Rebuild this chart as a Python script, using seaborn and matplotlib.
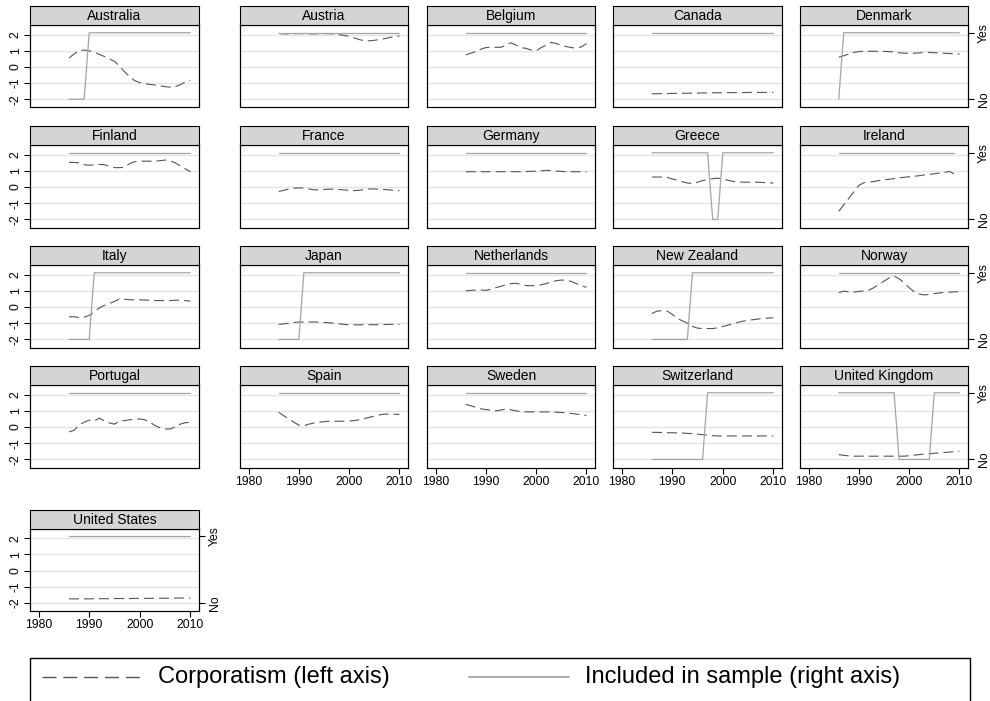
import pandas as pd
import matplotlib
matplotlib.use("Agg")
import matplotlib.pyplot as plt
from matplotlib.lines import Line2D
from matplotlib.patches import Rectangle
import seaborn as sns

years = list(range(1986, 2011))

countries = ["Australia", "Austria", "Belgium", "Canada", "Denmark",
             "Finland", "France", "Germany", "Greece", "Ireland",
             "Italy", "Japan", "Netherlands", "New Zealand", "Norway",
             "Portugal", "Spain", "Sweden", "Switzerland", "United Kingdom",
             "United States"]

# corporatism index, 1986-2010
australia = [0.55, 0.8, 1.02, 1.05, 1.0, 0.9, 0.78, 0.65, 0.5, 0.35, 0.05, -0.3, -0.6,
             -0.85, -0.97, -1.03, -1.08, -1.12, -1.17, -1.22, -1.25, -1.22, -1.1, -0.93, -0.85]
austria = [2.08, 2.05, 2.05, 2.06, 2.07, 2.06, 2.05, 2.05, 2.06, 2.07, 2.06, 2.05, 2.0,
           1.95, 1.9, 1.8, 1.7, 1.62, 1.62, 1.65, 1.7, 1.75, 1.82, 1.88, 1.92]
belgium = [0.75, 0.85, 0.95, 1.1, 1.2, 1.22, 1.22, 1.22, 1.35, 1.5, 1.35, 1.2, 1.15,
           1.05, 1.0, 1.2, 1.35, 1.52, 1.45, 1.35, 1.26, 1.2, 1.17, 1.25, 1.45]
canada = [-1.66, -1.66, -1.65, -1.65, -1.64, -1.64, -1.63, -1.63, -1.62, -1.62, -1.61, -1.61, -1.6,
          -1.6, -1.6, -1.59, -1.59, -1.59, -1.59, -1.58, -1.58, -1.58, -1.58, -1.58, -1.58]
denmark = [0.6, 0.7, 0.8, 0.9, 0.95, 0.97, 0.97, 0.97, 0.97, 0.97, 0.95, 0.93, 0.88,
           0.85, 0.85, 0.85, 0.87, 0.9, 0.9, 0.88, 0.86, 0.85, 0.83, 0.82, 0.8]
finland = [1.53, 1.52, 1.5, 1.38, 1.35, 1.37, 1.4, 1.38, 1.28, 1.2, 1.2, 1.22, 1.45,
           1.57, 1.6, 1.6, 1.6, 1.6, 1.63, 1.67, 1.62, 1.5, 1.3, 1.12, 0.95]
france = [-0.27, -0.2, -0.12, -0.07, -0.05, -0.07, -0.12, -0.17, -0.17, -0.15, -0.13, -0.13, -0.15,
          -0.18, -0.2, -0.22, -0.2, -0.15, -0.12, -0.12, -0.13, -0.15, -0.18, -0.2, -0.22]
germany = [0.95, 0.95, 0.95, 0.95, 0.95, 0.95, 0.95, 0.95, 0.95, 0.95, 0.95, 0.95, 0.96,
           0.97, 0.99, 1.01, 1.03, 1.02, 0.99, 0.97, 0.95, 0.95, 0.95, 0.95, 0.95]
greece = [0.62, 0.62, 0.62, 0.6, 0.5, 0.42, 0.33, 0.25, 0.22, 0.3, 0.4, 0.47, 0.52,
          0.55, 0.5, 0.42, 0.35, 0.32, 0.3, 0.3, 0.3, 0.3, 0.28, 0.26, 0.25]
ireland = [-1.5, -1.1, -0.7, -0.3, 0.1, 0.27, 0.3, 0.35, 0.4, 0.45, 0.48, 0.52, 0.57,
           0.6, 0.64, 0.67, 0.7, 0.75, 0.78, 0.82, 0.86, 0.9, 0.97, 0.8, None]
italy = [-0.6, -0.6, -0.65, -0.62, -0.52, -0.3, -0.05, 0.1, 0.22, 0.35, 0.5, 0.48, 0.45,
         0.45, 0.45, 0.43, 0.42, 0.4, 0.4, 0.4, 0.4, 0.42, 0.43, 0.4, 0.36]
japan = [-1.07, -1.04, -1.0, -0.95, -0.93, -0.92, -0.92, -0.92, -0.93, -0.95, -0.97, -1.0, -1.04,
         -1.07, -1.1, -1.1, -1.1, -1.09, -1.09, -1.09, -1.08, -1.08, -1.07, -1.07, -1.07]
netherlands = [1.0, 1.03, 1.05, 1.06, 1.03, 1.1, 1.2, 1.28, 1.38, 1.45, 1.47, 1.4, 1.33,
               1.32, 1.33, 1.38, 1.45, 1.55, 1.63, 1.67, 1.65, 1.58, 1.45, 1.32, 1.22]
new_zealand = [-0.4, -0.25, -0.23, -0.25, -0.45, -0.7, -0.85, -1.0, -1.2, -1.3, -1.33, -1.33, -1.33,
               -1.28, -1.2, -1.12, -1.03, -0.94, -0.87, -0.82, -0.78, -0.74, -0.7, -0.68, -0.66]
norway = [0.9, 0.98, 0.95, 0.92, 0.97, 1.0, 1.05, 1.2, 1.4, 1.6, 1.8, 1.92, 1.75,
          1.5, 1.2, 0.95, 0.8, 0.75, 0.78, 0.83, 0.87, 0.9, 0.92, 0.94, 0.95]
portugal = [-0.3, -0.2, 0.12, 0.3, 0.43, 0.38, 0.55, 0.38, 0.25, 0.18, 0.38, 0.4, 0.45,
            0.48, 0.5, 0.45, 0.3, 0.1, -0.05, -0.12, -0.12, 0.0, 0.18, 0.27, 0.3]
spain = [0.92, 0.7, 0.5, 0.3, 0.12, 0.08, 0.18, 0.25, 0.3, 0.33, 0.36, 0.36, 0.36,
         0.36, 0.37, 0.4, 0.45, 0.52, 0.6, 0.68, 0.75, 0.8, 0.8, 0.79, 0.78]
sweden = [1.4, 1.32, 1.22, 1.13, 1.08, 1.05, 1.0, 1.05, 1.12, 1.07, 1.0, 0.95, 0.94,
          0.94, 0.94, 0.94, 0.94, 0.93, 0.92, 0.9, 0.88, 0.84, 0.8, 0.76, 0.72]
switzerland = [-0.33, -0.33, -0.34, -0.35, -0.35, -0.36, -0.37, -0.39, -0.41, -0.44, -0.47, -0.5, -0.53,
               -0.55, -0.55, -0.55, -0.55, -0.55, -0.55, -0.55, -0.55, -0.55, -0.55, -0.55, -0.55]
united_kingdom = [-1.7, -1.75, -1.78, -1.8, -1.8, -1.8, -1.8, -1.8, -1.8, -1.8, -1.8, -1.8, -1.8,
                  -1.8, -1.77, -1.74, -1.7, -1.67, -1.65, -1.62, -1.6, -1.57, -1.55, -1.52, -1.5]
united_states = [-1.75, -1.75, -1.75, -1.75, -1.75, -1.74, -1.74, -1.74, -1.74, -1.73, -1.73, -1.73, -1.73,
                 -1.72, -1.72, -1.72, -1.72, -1.71, -1.71, -1.71, -1.71, -1.7, -1.7, -1.7, -1.7]

corp_series = [australia, austria, belgium, canada, denmark, finland, france, germany,
               greece, ireland, italy, japan, netherlands, new_zealand, norway, portugal,
               spain, sweden, switzerland, united_kingdom, united_states]

# years in which a country is not in the sample (all other years: included)
excluded_years = {
    "Australia": [1986, 1987, 1988, 1989],
    "Denmark": [1986],
    "Greece": [1998, 1999],
    "Italy": [1986, 1987, 1988, 1989, 1990],
    "Japan": [1986, 1987, 1988, 1989, 1990],
    "New Zealand": [1986, 1987, 1988, 1989, 1990, 1991, 1992, 1993],
    "Switzerland": [1986, 1987, 1988, 1989, 1990, 1991, 1992, 1993, 1994, 1995, 1996],
    "United Kingdom": [1998, 1999, 2000, 2001, 2002, 2003, 2004],
}

rows = []
for name, vals in zip(countries, corp_series):
    for yr, v in zip(years, vals):
        rows.append({"country": name, "year": yr, "corp": v,
                     "incl": 0 if yr in excluded_years.get(name, []) else 1})
df = pd.DataFrame(rows)

sns.set_theme(style="white", rc={"text.color": "black", "xtick.color": "black",
                                 "ytick.color": "black", "axes.labelcolor": "black"})
plt.rcParams["font.family"] = ["Liberation Sans", "DejaVu Sans"]

W, H = 990, 701
fig = plt.figure(figsize=(9.9, 7.01), dpi=100)

col_left = [30, 240, 427, 613, 800]
col_right = [199, 408, 595, 782, 968]
row_top = [25, 145, 265, 385, 528.5]
row_bot = [107.3, 227.5, 347.5, 467.5, 611]
bar_h = 19


def rect(l, t, r, b):
    return [l / W, 1 - b / H, (r - l) / W, (b - t) / H]


corp_color = "#555555"
incl_color = "#a4a4a4"

for i, name in enumerate(countries):
    r, c = divmod(i, 5)
    l, rr = col_left[c], col_right[c]
    t, b = row_top[r], row_bot[r]
    sub = df[df["country"] == name].dropna(subset=["corp"])

    ax = fig.add_axes(rect(l, t, rr, b))
    sns.lineplot(data=sub, x="year", y="corp", ax=ax, color=corp_color, lw=0.8,
                 linestyle=(0, (9, 4.5)), errorbar=None)
    ax.set_xlim(1978.3, 2011.7)
    ax.set_ylim(-2.5, 2.6)
    ax.set_yticks([-2, -1, 0, 1, 2])
    ax.set_yticklabels(["-2", "-1", "0", "1", "2"])
    ax.set_xticks([1980, 1990, 2000, 2010])
    ax.grid(axis="y", color="#e4e4e4", lw=1.0)
    ax.grid(axis="x", visible=False)
    ax.set_axisbelow(True)
    ax.set_xlabel("")
    ax.set_ylabel("")

    ax2 = ax.twinx()
    sns.lineplot(data=sub, x="year", y="incl", ax=ax2, color=incl_color, lw=0.9,
                 errorbar=None)
    ax2.set_ylim(-0.121, 1.117)
    ax2.set_yticks([0, 1])
    ax2.set_yticklabels(["No", "Yes"])
    ax2.grid(False)
    ax2.set_ylabel("")

    show_left = c == 0
    show_right = c == 4 or name == "United States"
    show_x = (r == 3 and c > 0) or name == "United States"

    ax.tick_params(axis="y", left=show_left, labelleft=show_left, labelrotation=90,
                   length=4, width=0.8, color="black", labelcolor="black",
                   labelsize=8.8, pad=2)
    ax.tick_params(axis="x", bottom=show_x, labelbottom=show_x,
                   length=4, width=0.8, color="black", labelcolor="black",
                   labelsize=8.8, pad=2)
    ax2.tick_params(axis="y", right=show_right, labelright=show_right, labelrotation=90,
                    length=4, width=0.8, color="black", labelcolor="black",
                    labelsize=8.8, pad=3)
    for tl in ax.get_yticklabels():
        tl.set_va("center")
    for tl in ax2.get_yticklabels():
        tl.set_va("center")
    for a in (ax, ax2):
        for sp in a.spines.values():
            sp.set_color("black")
            sp.set_linewidth(0.8)

    tax = fig.add_axes(rect(l, t - bar_h, rr, t))
    tax.set_facecolor("#d4d4d4")
    tax.set_xticks([])
    tax.set_yticks([])
    for sp in tax.spines.values():
        sp.set_color("black")
        sp.set_linewidth(0.8)
    tax.text(0.5, 0.45, name, ha="center", va="center", fontsize=10, color="black",
             transform=tax.transAxes)

# legend box (runs off the bottom edge like the original)
fig.add_artist(Rectangle((30 / W, 1 - 720 / H), 940 / W, 62 / H,
                         transform=fig.transFigure, fill=False, ec="black", lw=1.0))
ly = 1 - 677 / H
fig.add_artist(Line2D([42 / W, 143 / W], [ly, ly], transform=fig.transFigure,
                      color=corp_color, lw=1.0, linestyle=(0, (10, 5))))
fig.text(158 / W, ly, "Corporatism (left axis)", fontsize=17, va="center", ha="left",
         color="black")
fig.add_artist(Line2D([469 / W, 569 / W], [ly, ly], transform=fig.transFigure,
                      color=incl_color, lw=1.3))
fig.text(585 / W, ly, "Included in sample (right axis)", fontsize=17, va="center",
         ha="left", color="black")

fig.savefig("out.png", dpi=100)
